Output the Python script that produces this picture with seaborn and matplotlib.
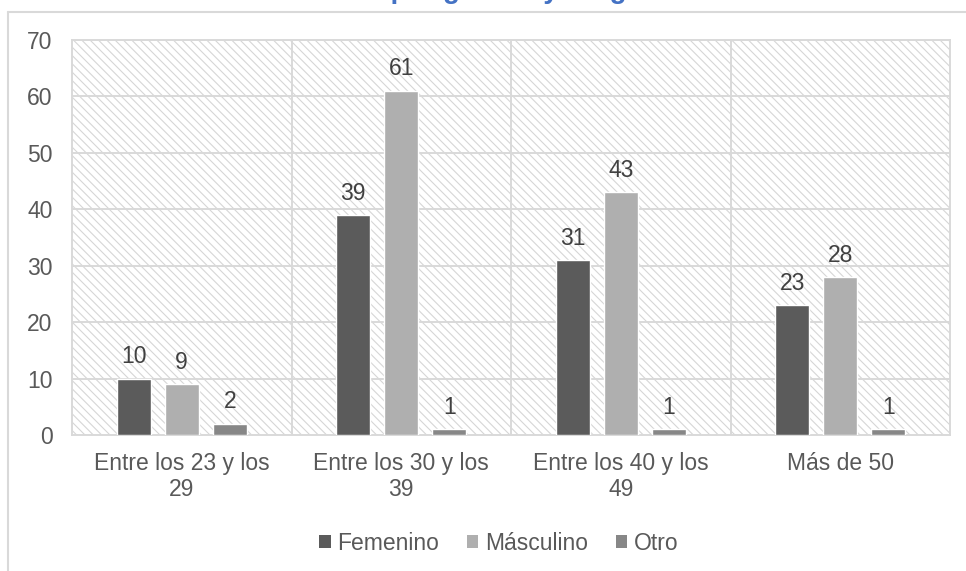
import matplotlib
matplotlib.use("Agg")
import matplotlib.pyplot as plt
from matplotlib.patches import Rectangle
from matplotlib.lines import Line2D
import seaborn as sns
import pandas as pd

# Age ranges and counts per gender
categories = ["Entre los 23 y los\n29", "Entre los 30 y los\n39", "Entre los 40 y los\n49", "Más de 50"]
genders = ["Femenino", "Másculino", "Otro"]
femenino = [10, 39, 31, 23]
masculino = [9, 61, 43, 28]
otro = [2, 1, 1, 1]
y_ticks = [0, 10, 20, 30, 40, 50, 60, 70]
title = "Encuestados por género y rango de edad"

colors = ["#5B5B5B", "#AFAFAF", "#878787"]
grid_c = "#D9D9D9"
text_c = "#595959"
fs = 16.5

sns.set_theme(style="white")
plt.rcParams["font.family"] = ["Liberation Sans", "DejaVu Sans"]
plt.rcParams["hatch.linewidth"] = 0.8

df = pd.DataFrame({
    "Rango": categories * 3,
    "Género": [g for g in genders for _ in categories],
    "Cantidad": femenino + masculino + otro,
})

fig = plt.figure(figsize=(9.66, 5.71), dpi=100)
ax = fig.add_axes([72 / 966, 1 - 435 / 571, (950 - 72) / 966, (435 - 40) / 571])

# Hatched plot-area background
ax.add_patch(Rectangle((0, 0), 1, 1, transform=ax.transAxes, facecolor="white",
                       edgecolor="#D6D6D6", linewidth=0, hatch="\\\\\\\\", zorder=0))

sns.barplot(data=df, x="Rango", y="Cantidad", hue="Género", order=categories,
            hue_order=genders, palette=colors, width=0.657, gap=0.29,
            saturation=1, legend=False, ax=ax, zorder=3)

for cont in ax.containers:
    ax.bar_label(cont, padding=7.5, fontsize=fs, color="#404040")

ax.set_xlim(-0.5, 3.5)
ax.set_ylim(0, 70)
ax.set_yticks(y_ticks)
ax.set_xlabel("")
ax.set_ylabel("")
ax.tick_params(axis="both", length=0, labelsize=fs, labelcolor=text_c)
ax.tick_params(axis="y", pad=14)
ax.tick_params(axis="x", pad=12)

# Horizontal gridlines and category separators
for v in y_ticks[1:]:
    ax.axhline(v, color=grid_c, lw=1.4, zorder=1)
for xs in [0.5, 1.5, 2.5]:
    ax.axvline(xs, color=grid_c, lw=1.4, zorder=1)
for s in ax.spines.values():
    s.set_visible(True)
    s.set_color(grid_c)
    s.set_linewidth(1.4)

# Outer chart frame
fig.add_artist(Line2D([8 / 966, 8 / 966], [0, 1 - 12 / 571], color=grid_c, lw=1.5,
                      transform=fig.transFigure))
fig.add_artist(Line2D([8 / 966, 1], [1 - 12 / 571, 1 - 12 / 571], color=grid_c, lw=1.5,
                      transform=fig.transFigure))

# Chart title, sitting at the very top edge
fig.text(0.5, 1 + 2 / 571, title, ha="center", va="baseline", fontsize=20,
         fontweight="bold", color="#4472C4")

handles = [Rectangle((0, 0), 1, 1, facecolor=c, edgecolor="none") for c in colors]
fig.legend(handles, genders, loc="center", bbox_to_anchor=(499 / 966, 1 - 543 / 571),
           ncol=3, frameon=False, fontsize=fs, labelcolor=text_c,
           handlelength=0.5, handleheight=0.5, handletextpad=0.3, columnspacing=1.2)

fig.savefig("out.png", dpi=100, facecolor="white")
